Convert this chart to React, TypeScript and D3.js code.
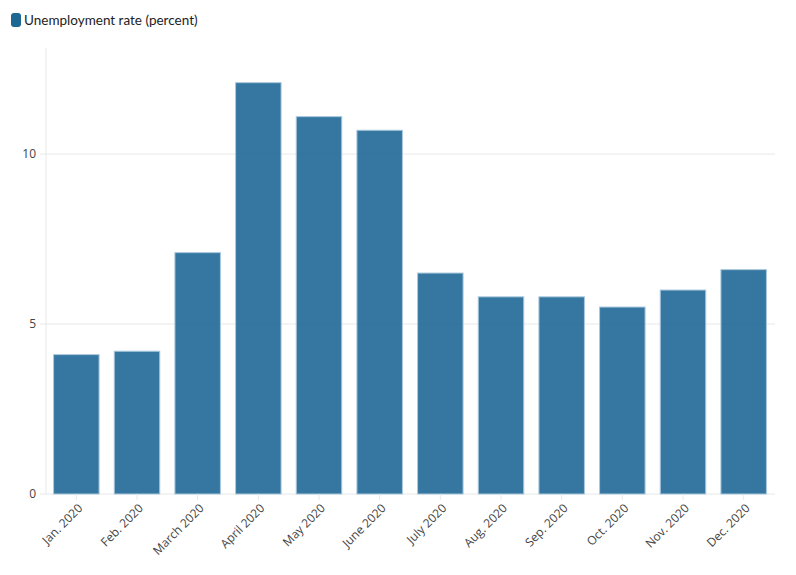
import React from "react";
import * as d3 from "d3";

const categories = ["Jan. 2020", "Feb. 2020", "March 2020", "April 2020", "May 2020", "June 2020", "July 2020", "Aug. 2020", "Sep. 2020", "Oct. 2020", "Nov. 2020", "Dec. 2020"];
const values = [4.1, 4.2, 7.1, 12.1, 11.1, 10.7, 6.5, 5.8, 5.8, 5.5, 6.0, 6.6];
const yTicks = [0, 5, 10];
const seriesName = "Unemployment rate (percent)";

export default function App() {
  const W = 796, H = 575;
  const left = 46, right = 774, top = 48, bottom = 494;
  const x = d3.scaleBand<string>().domain(categories).range([left, right]).paddingInner(0.25).paddingOuter(0.125);
  const y = d3.scaleLinear().domain([0, 13.12]).range([bottom, top]);
  const font = "'Open Sans', sans-serif";
  return (
    <svg width={W} height={H} style={{ position: "absolute", left: 0, top: 0 }}>
      <rect width={W} height={H} fill="#fff" />
      <rect x={11} y={13} width={10} height={14} rx={3} fill="#1d6893" />
      <text x={24} y={25} fontFamily="Lato, sans-serif" fontSize={13.5} fill="#222">{seriesName}</text>
      {yTicks.map((t) => (
        <g key={t}>
          <line x1={40} x2={right + 1} y1={y(t)} y2={y(t)} stroke="#e8e8e8" strokeWidth={1} />
          <text x={36} y={y(t)} dy="0.35em" textAnchor="end" fontFamily={font} fontSize={12} fill="#444">{t}</text>
        </g>
      ))}
      <line x1={left} x2={left} y1={top} y2={bottom} stroke="#e8e8e8" strokeWidth={1} />
      {categories.map((c, i) => (
        <rect key={c} x={x(c)!} y={y(values[i])} width={x.bandwidth()} height={y(0) - y(values[i])}
          fill="#1f6896" fillOpacity={0.9} stroke="#a9c8dd" strokeWidth={1} />
      ))}
      {categories.map((c) => {
        const cx = x(c)! + x.bandwidth() / 2;
        return (
          <g key={c}>
            <line x1={cx} x2={cx} y1={bottom} y2={bottom + 6} stroke="#e8e8e8" />
            <text transform={`translate(${cx + 4},${bottom + 12}) rotate(-45)`} textAnchor="end" dy="0.35em"
              fontFamily={font} fontSize={12} fill="#444">{c}</text>
          </g>
        );
      })}
    </svg>
  );
}
